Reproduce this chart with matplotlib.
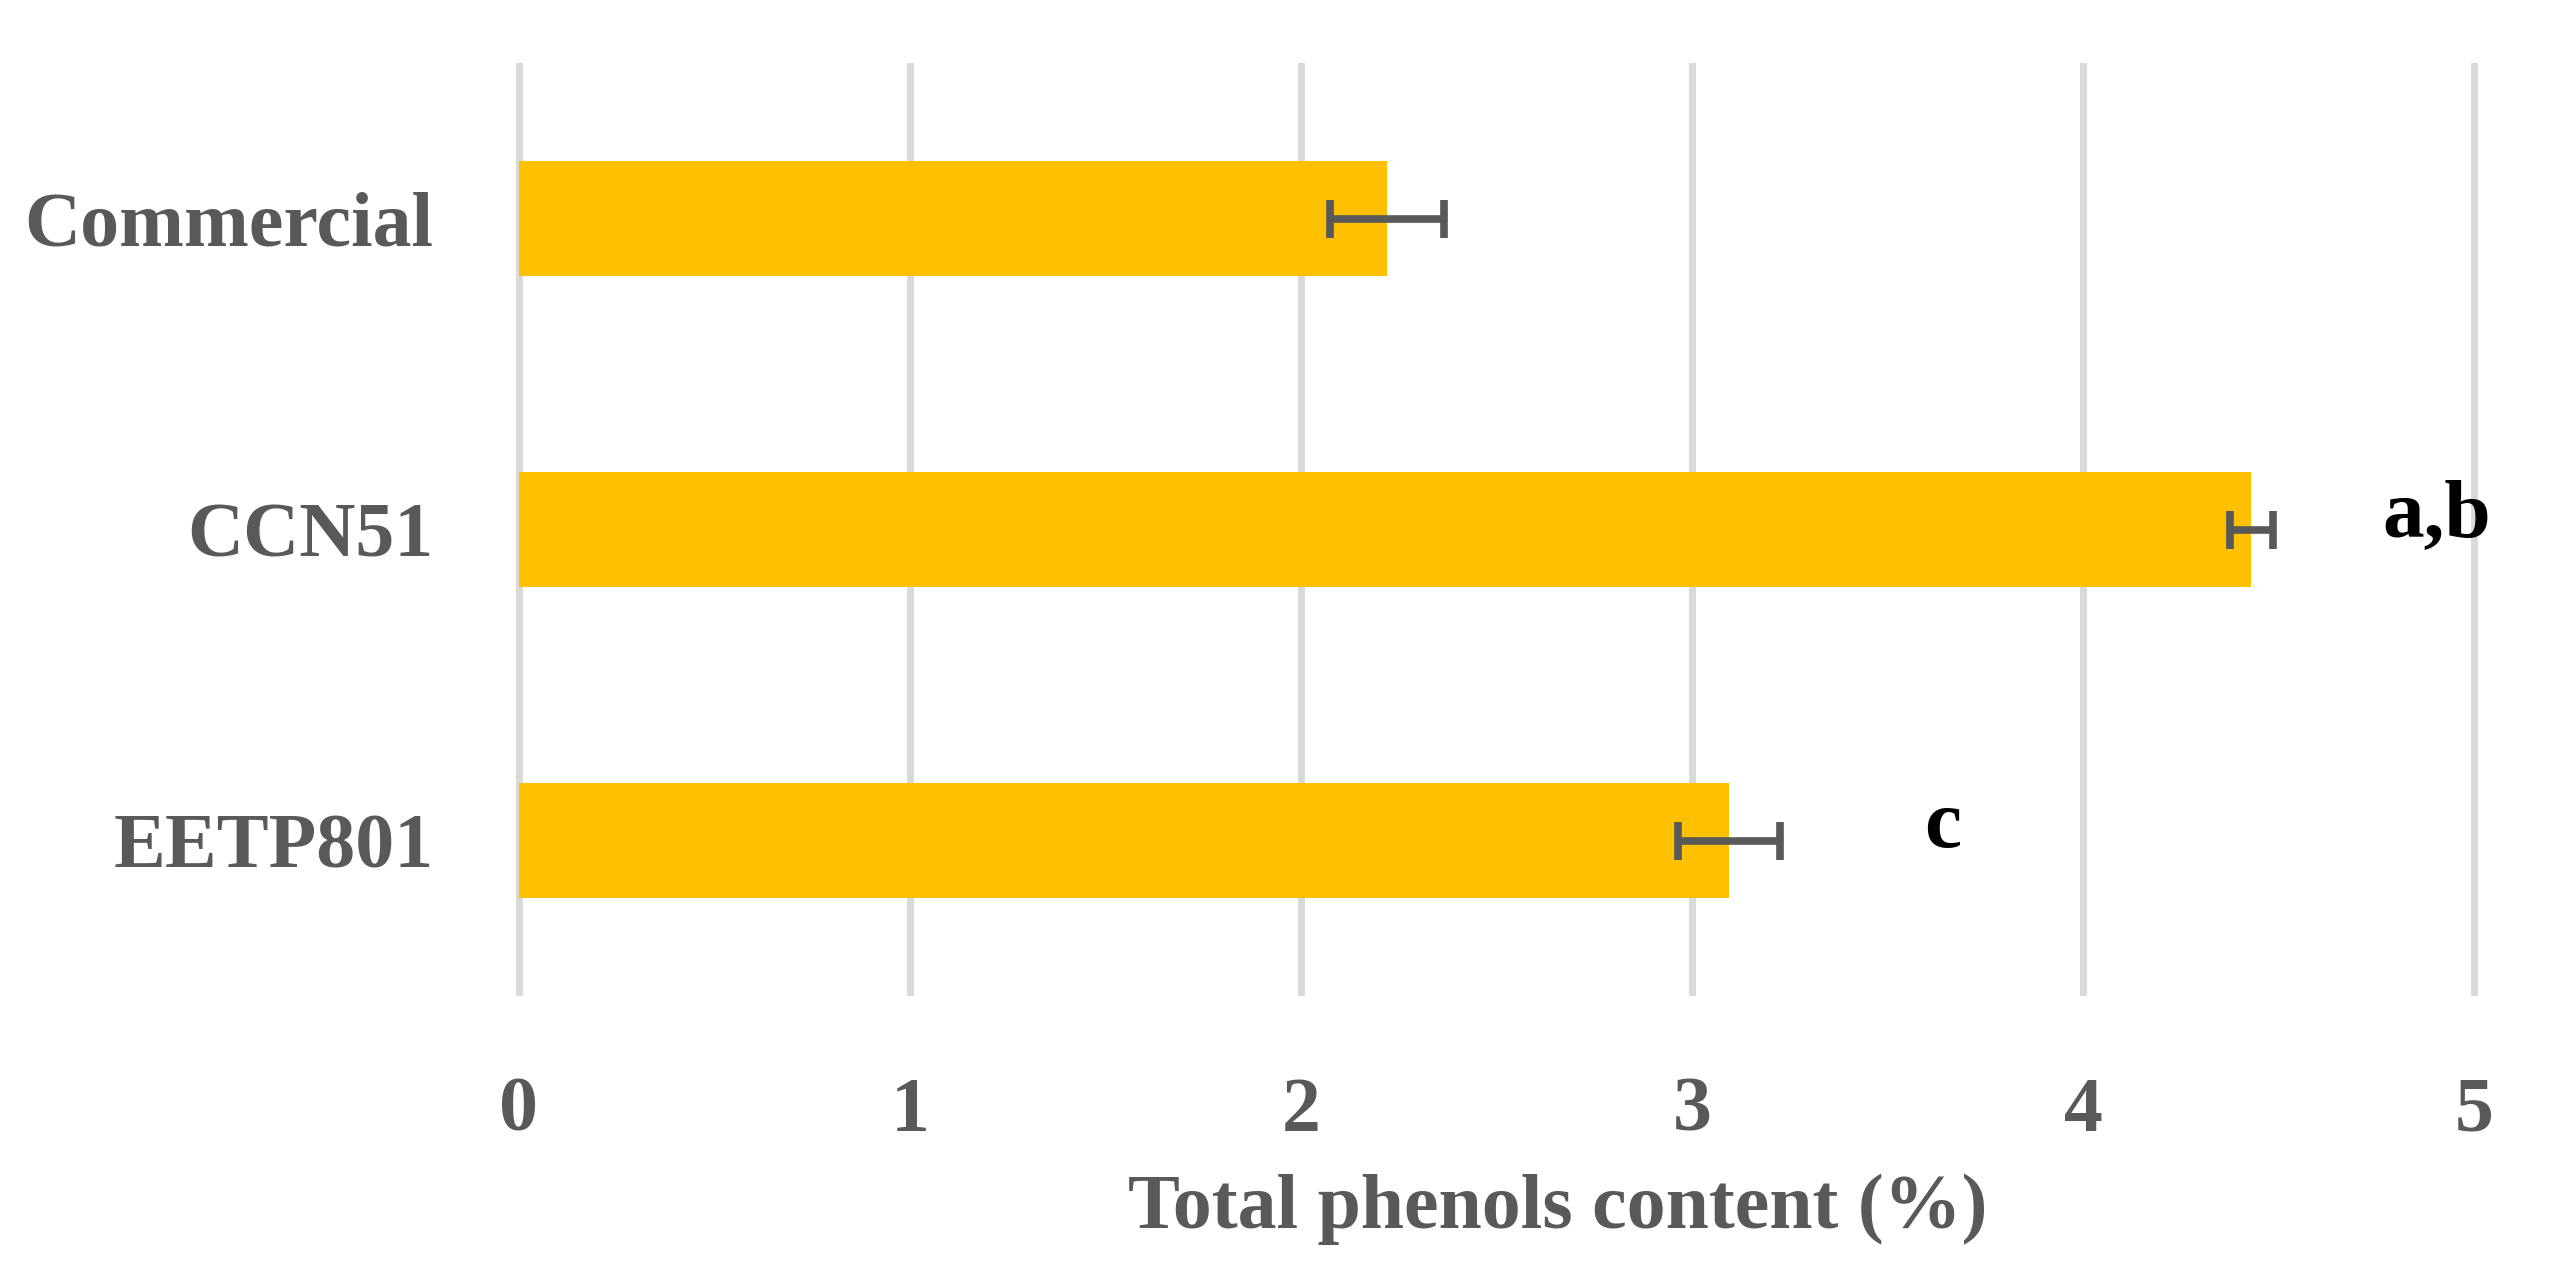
import matplotlib
matplotlib.use("Agg")
import matplotlib.pyplot as plt

categories = ["Commercial", "CCN51", "EETP801"]
phenols = [2.22, 4.43, 3.095]
errors = [0.145, 0.055, 0.13]
letters = ["", "a,b", "c"]
letter_x = [0, 4.905, 3.64]

plt.rcParams['font.family'] = ['Liberation Serif', 'DejaVu Serif']
plt.rcParams['font.weight'] = 'bold'

grey = '#595959'

fig = plt.figure(figsize=(25.59, 12.69), dpi=100)
pad = 0.02
ax = fig.add_axes([(519 - 391 * pad) / 2559, 1 - 996 / 1269,
                   (1955 + 2 * 391 * pad) / 2559, 933 / 1269])

ypos = list(range(len(categories)))
ax.barh(ypos, phenols, height=0.37, color='#FFC000', zorder=2)
ax.errorbar(phenols, ypos, xerr=errors, fmt='none', ecolor=grey,
            elinewidth=5.5, capsize=14, capthick=5.5, zorder=3)

for i, t in enumerate(letters):
    if t:
        ax.text(letter_x[i], i + 0.02, t, ha='center', va='baseline',
                fontsize=60, fontweight='bold', color='black', zorder=4)

ax.set_xlim(-pad, 5 + pad)
ax.set_ylim(2.5, -0.5)
ax.set_xticks(range(6))
ax.set_yticks(ypos)
ax.set_yticklabels(categories)
ax.grid(axis='x', color='#D9D9D9', linewidth=5, zorder=0)
ax.set_axisbelow(True)
for s in ax.spines.values():
    s.set_visible(False)
ax.tick_params(axis='both', length=0, labelsize=56, labelcolor=grey)
ax.tick_params(axis='x', pad=58)
ax.tick_params(axis='y', pad=56)

fig.text(1558 / 2559, 1 - 1228 / 1269, "Total phenols content (%)",
         ha='center', va='baseline', fontsize=56, fontweight='bold', color=grey)

fig.savefig("out.png", dpi=100)
